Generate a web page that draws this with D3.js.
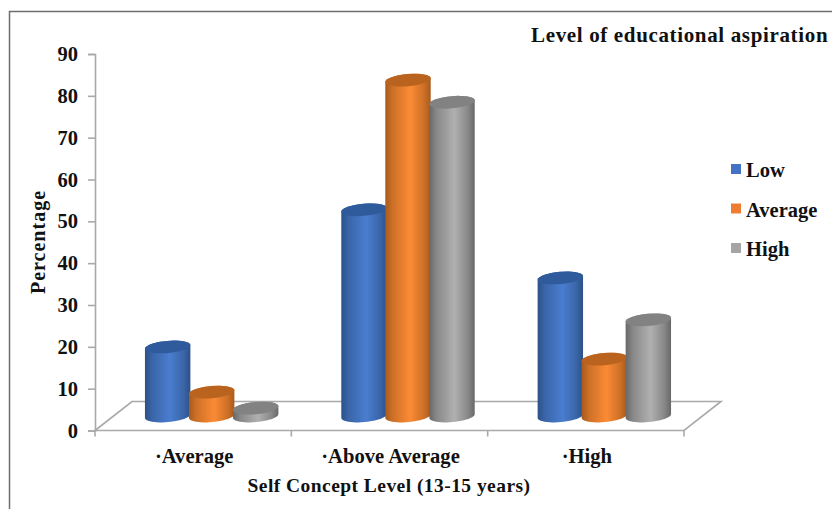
<!DOCTYPE html>
<html>
<head>
<meta charset="utf-8">
<script src="https://cdn.jsdelivr.net/npm/d3@7/dist/d3.min.js"></script>
<style>
  html, body { margin: 0; padding: 0; background: #fff; }
  svg { display: block; }
  text { font-family: "Liberation Serif", serif; font-weight: 700; fill: #111; }
</style>
</head>
<body>
<svg id="chart" width="832" height="509"></svg>
<script>
// Chart values
const categories = ["·Average", "·Above Average", "·High"];
const seriesNames = ["Low", "Average", "High"];
const lowValues = [16.5, 49.3, 33];
const averageValues = [5.7, 80.3, 13.6];
const highValues = [1.9, 75, 23];
const yTicks = [0, 10, 20, 30, 40, 50, 60, 70, 80, 90];
const yDomain = [0, 90];

const seriesValues = [lowValues, averageValues, highValues];

// Colour ramps for the cylinders: edge, centre, top cap, legend key
const ramps = [
  { edge: "#2c5188", mid: "#4a7dd0", cap: "#2f5b9c", key: "#4472c4" },
  { edge: "#a85a1c", mid: "#fb8b35", cap: "#b9631f", key: "#ed7d31" },
  { edge: "#686868", mid: "#b0b0b0", cap: "#828282", key: "#a5a5a5" }
];

const svg = d3.select("#chart");
const axisColor = "#a9a9a9";

// Outer frame of the chart area
svg.append("path")
  .attr("d", "M9.5,509V11.5H832")
  .attr("fill", "none")
  .attr("stroke", "#6e6e6e")
  .attr("stroke-width", 1.5);

// Scales: the front edge of the floor carries the axes
const plot = { left: 95, right: 684, top: 54, bottom: 430.5 };
const depth = { dx: 37, dy: 29 };
const y = d3.scaleLinear().domain(yDomain).range([plot.bottom, plot.top]);
const x = d3.scaleBand().domain(categories).range([plot.left, plot.right]);
const inner = d3.scalePoint().domain(seriesNames).range([-44, 44]);

// Floor of the 3D plot
svg.append("path")
  .attr("d", `M${plot.left},${plot.bottom}L${plot.left + depth.dx},${plot.bottom - depth.dy}` +
             `H${plot.right + depth.dx}L${plot.right},${plot.bottom}Z`)
  .attr("fill", "none")
  .attr("stroke", axisColor)
  .attr("stroke-width", 1.6);

// Value axis
const yAxis = svg.append("g")
  .attr("transform", `translate(${plot.left},0)`)
  .call(d3.axisLeft(y).tickValues(yTicks).tickSize(7).tickPadding(10));
yAxis.selectAll("text").style("font-size", "20.5px").attr("fill", "#111");

// Category axis ticks sit on the band boundaries
const xAxis = svg.append("g").attr("transform", `translate(0,${plot.bottom})`);
const xTickPositions = [...categories.map(c => x(c)), plot.right];
xAxis.selectAll("line.edge").data(xTickPositions).join("line")
  .attr("class", "edge")
  .attr("x1", d => d).attr("x2", d => d)
  .attr("y1", 0).attr("y2", 6);

[yAxis, xAxis].forEach(a => a.selectAll("path.domain, .tick line, line.edge")
  .attr("stroke", axisColor).attr("stroke-width", 1.6));

svg.append("g").selectAll("text").data(categories).join("text")
  .attr("x", d => x(d) + x.bandwidth() / 2 + 1)
  .attr("y", 462.5)
  .attr("text-anchor", "middle")
  .style("font-size", "20.6px")
  .text(d => d);

// Gradients across the cylinder bodies
const defs = svg.append("defs");
ramps.forEach((r, i) => {
  const g = defs.append("linearGradient").attr("id", `body${i}`)
    .attr("x1", 0).attr("x2", 1).attr("y1", 0).attr("y2", 0);
  const soft = d3.interpolateRgb(r.edge, r.mid)(0.45);
  [[0, r.edge], [0.16, soft], [0.55, r.mid], [0.85, soft], [1, r.edge]].forEach(([o, c]) => {
    g.append("stop").attr("offset", o).attr("stop-color", c);
  });
});

// Cylinders: the base sits midway across the floor's depth
const rx = 22.8, ry = 6.1, tilt = -5;
const tiltRad = tilt * Math.PI / 180;
const shiftX = depth.dx / 2, shiftY = depth.dy / 2;

// Point on a tilted ellipse around (cx, cy) at angle t
function rimPoint(cx, cy, t) {
  const px = rx * Math.cos(t), py = ry * Math.sin(t);
  return [cx + px * Math.cos(tiltRad) - py * Math.sin(tiltRad),
          cy + px * Math.sin(tiltRad) + py * Math.cos(tiltRad)];
}

const rimAngles = d3.range(0, 25).map(k => Math.PI * k / 24);
const rimLine = d3.line();

// Outline: lower half of the base rim, then upper half of the top rim
function cylinderBody(cx, topY, baseY) {
  const lower = rimAngles.map(t => rimPoint(cx, baseY, t));
  const upper = rimAngles.map(t => rimPoint(cx, topY, t + Math.PI));
  return rimLine([...lower, ...upper]) + "Z";
}

seriesNames.forEach((name, s) => {
  const group = svg.append("g").attr("class", "series");
  const rows = categories.map((c, i) => ({
    cx: x(c) + x.bandwidth() / 2 + shiftX + inner(name),
    top: y(seriesValues[s][i]) - shiftY,
    base: y(0) - shiftY
  }));
  group.selectAll("path.body").data(rows).join("path")
    .attr("class", "body")
    .attr("fill", `url(#body${s})`)
    .attr("d", d => cylinderBody(d.cx, d.top, d.base));
  group.selectAll("ellipse.cap").data(rows).join("ellipse")
    .attr("class", "cap")
    .attr("cx", d => d.cx).attr("cy", d => d.top)
    .attr("rx", rx).attr("ry", ry)
    .attr("transform", d => `rotate(${tilt} ${d.cx} ${d.top})`)
    .attr("fill", ramps[s].cap);
});

// Axis titles and legend heading
svg.append("text")
  .attr("transform", "translate(45,242) rotate(-90)")
  .attr("text-anchor", "middle")
  .style("font-size", "20px")
  .style("letter-spacing", "1px")
  .text("Percentage");

svg.append("text")
  .attr("x", 389).attr("y", 492)
  .attr("text-anchor", "middle")
  .style("font-size", "19.5px")
  .style("letter-spacing", "0.45px")
  .text("Self Concept Level (13-15 years)");

svg.append("text")
  .attr("x", 531).attr("y", 42)
  .style("font-size", "21px")
  .style("letter-spacing", "0.65px")
  .text("Level of educational aspiration");

// Legend
const legendY = d3.scalePoint().domain(seriesNames).range([169, 248]);
const legend = svg.append("g").selectAll("g").data(seriesNames).join("g")
  .attr("transform", d => `translate(731,${legendY(d)})`);
legend.append("rect")
  .attr("x", 0).attr("y", -5).attr("width", 10).attr("height", 10)
  .attr("fill", (d, i) => ramps[i].key);
legend.append("text")
  .attr("x", 15).attr("y", 8)
  .style("font-size", "20.5px")
  .text(d => d);
</script>
</body>
</html>
